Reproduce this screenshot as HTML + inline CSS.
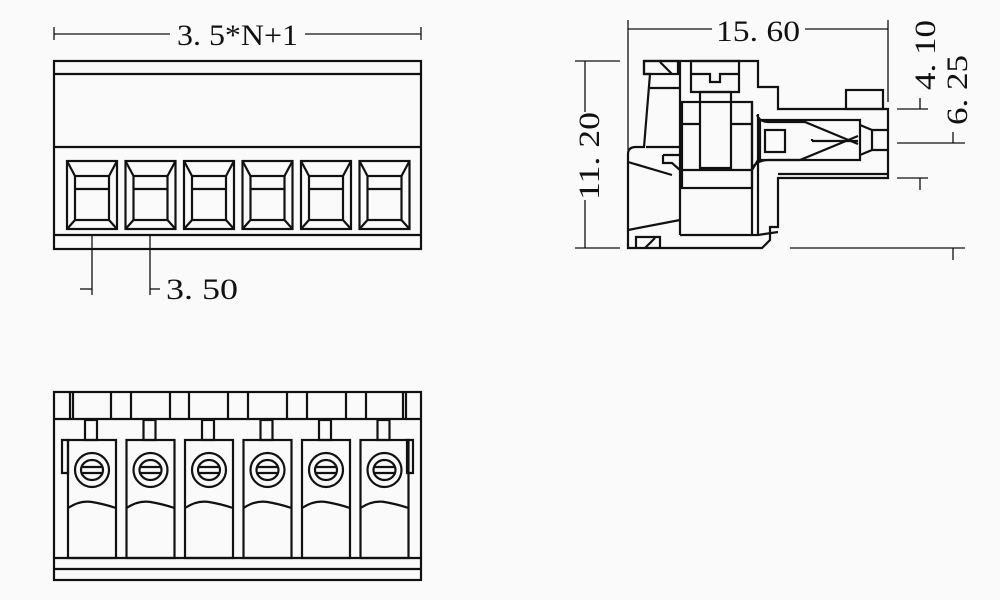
<!DOCTYPE html>
<html><head><meta charset="utf-8"><style>
html,body{margin:0;padding:0;background:#fafafa;}
svg{display:block;}
text{font-family:"Liberation Serif",serif;fill:#111;}
</style></head><body>
<svg width="1000" height="600" viewBox="0 0 1000 600" xmlns="http://www.w3.org/2000/svg">
<rect width="1000" height="600" fill="#fafafa"/>
<g stroke="#111" fill="none" stroke-width="2.2">
<rect x="54" y="61" width="367" height="188"/>
<line x1="54" y1="74" x2="421" y2="74"/>
<line x1="54" y1="147" x2="421" y2="147"/>
<line x1="54" y1="235" x2="421" y2="235"/>
<g id="sq">
<rect x="67" y="161" width="50" height="68"/>
<rect x="75" y="176" width="34" height="44"/>
<line x1="75" y1="189" x2="109" y2="189"/>
<line x1="67" y1="161" x2="75" y2="176"/><line x1="117" y1="161" x2="109" y2="176"/>
<line x1="67" y1="229" x2="75" y2="220"/><line x1="117" y1="229" x2="109" y2="220"/>
</g>
<use href="#sq" x="58.5"/><use href="#sq" x="117"/><use href="#sq" x="175.5"/><use href="#sq" x="234"/><use href="#sq" x="292.5"/>
</g>
<g stroke="#111" fill="none" stroke-width="1.3">
<line x1="54" y1="27" x2="54" y2="40"/><line x1="421" y1="27" x2="421" y2="40"/>
<line x1="54" y1="34" x2="170" y2="34"/><line x1="305" y1="34" x2="421" y2="34"/>
<line x1="92" y1="235" x2="92" y2="295"/><line x1="150" y1="235" x2="150" y2="295"/>
<line x1="80" y1="289" x2="92" y2="289"/><line x1="150" y1="289" x2="160" y2="289"/>
<line x1="628" y1="20" x2="628" y2="150"/><line x1="888" y1="20" x2="888" y2="102"/>
<line x1="628" y1="29" x2="712" y2="29"/><line x1="805" y1="29" x2="888" y2="29"/>
<line x1="575" y1="61" x2="620" y2="61"/><line x1="575" y1="248" x2="620" y2="248"/>
<line x1="585" y1="61" x2="585" y2="112"/><line x1="585" y1="200" x2="585" y2="248"/>
<line x1="897" y1="109" x2="928" y2="109"/><line x1="897" y1="143" x2="965" y2="143"/>
<line x1="897" y1="178" x2="928" y2="178"/><line x1="790" y1="248" x2="965" y2="248"/>
<line x1="920" y1="98" x2="920" y2="109"/><line x1="920" y1="178" x2="920" y2="190"/>
<line x1="953" y1="132" x2="953" y2="143"/><line x1="953" y1="248" x2="953" y2="260"/>
</g>
<text x="177" y="45" font-size="30" textLength="121" lengthAdjust="spacingAndGlyphs">3. 5*N+1</text>
<text x="166" y="299" font-size="30" textLength="72" lengthAdjust="spacingAndGlyphs">3. 50</text>
<text x="716" y="41" font-size="30" textLength="84" lengthAdjust="spacingAndGlyphs">15. 60</text>
<text transform="translate(599,200) rotate(-90)" font-size="30" textLength="88" lengthAdjust="spacingAndGlyphs">11. 20</text>
<text transform="translate(935,90) rotate(-90)" font-size="30" textLength="70" lengthAdjust="spacingAndGlyphs">4. 10</text>
<text transform="translate(967,125) rotate(-90)" font-size="30" textLength="70" lengthAdjust="spacingAndGlyphs">6. 25</text>
<g stroke="#111" fill="none" stroke-width="2.2" stroke-linejoin="miter">
<path d="M644 61 L758 61 L758 87 L778 87 L778 109 L888 109 L888 178 L778 178 L778 227 L770 227 L770 240 L762 248 L628 248 L628 154 Q628 147 636 147 L644 147 L650 74 L644 74 Z"/>
<rect x="644" y="61" width="34" height="13"/>
<path d="M660 62 L672 74"/>
<line x1="680" y1="61" x2="680" y2="235"/>
<path d="M650 88 L680 88 M646 147 L680 147"/>
<path d="M691 61 L739 61 L739 92 L691 92 Z M691 74 L710 74 L710 82 L720 82 L720 74 L739 74"/>
<rect x="700" y="92" width="31" height="76"/>
<rect x="682" y="102" width="70" height="86"/>
<path d="M682 124 L700 124 M731 124 L752 124"/>
<path d="M752 102 L752 236 M758 114 L758 236"/>
<path d="M628 162 L672 175 M628 230 L680 220"/>
<path d="M663 155 L680 155 M663 155 L663 163 L672 163 L680 170"/>
<path d="M680 170 L752 170 L758 160"/>
<path d="M680 235 L758 235 L778 232"/>
<path d="M636 248 L636 237 L660 237 L660 248 M645 248 L655 238"/>
<rect x="846" y="90" width="37" height="19"/>
<rect x="760" y="120" width="100" height="40"/>
<path d="M757 115 Q760 122 768 122 L805 122 L858 144"/>
<path d="M752 168 Q758 160 768 160 L800 160 L858 136"/>
<path d="M812 141 L858 141 M812 141 L812 139"/>
<rect x="765" y="130" width="20" height="22"/>
<path d="M860 125 L872 130 L872 150 L860 155 M872 130 L888 130 M872 150 L888 150"/>
<line x1="778" y1="174" x2="888" y2="174"/>
</g>
<g stroke="#111" fill="none" stroke-width="2.2">
<rect x="54" y="392" width="367" height="188"/>
<line x1="54" y1="419" x2="421" y2="419"/>
<line x1="54" y1="558" x2="421" y2="558"/>
<line x1="54" y1="569" x2="421" y2="569"/>
<path d="M70 392V419M73 392V419M111 392V419M131 392V419M170 392V419M189 392V419M228 392V419M248 392V419M287 392V419M307 392V419M346 392V419M366 392V419M403 392V419M406 392V419"/>
<path d="M62 440 L68 440 L68 473 L62 473 Z"/>
<path d="M413 440 L407 440 L407 473 L413 473 Z"/>
<g id="pole">
<rect x="68" y="440" width="48" height="118"/>
<rect x="85" y="420" width="12" height="20"/>
<circle cx="92" cy="470" r="17"/>
<ellipse cx="92" cy="470" rx="11" ry="10"/>
<line x1="81" y1="467" x2="103" y2="467"/><line x1="81" y1="473" x2="103" y2="473"/>
<path d="M68 508 Q80 500 92 502 Q104 504 116 508"/>
</g>
<use href="#pole" x="58.5"/><use href="#pole" x="117"/><use href="#pole" x="175.5"/><use href="#pole" x="234"/><use href="#pole" x="292.5"/>
</g>
</svg>
</body></html>
